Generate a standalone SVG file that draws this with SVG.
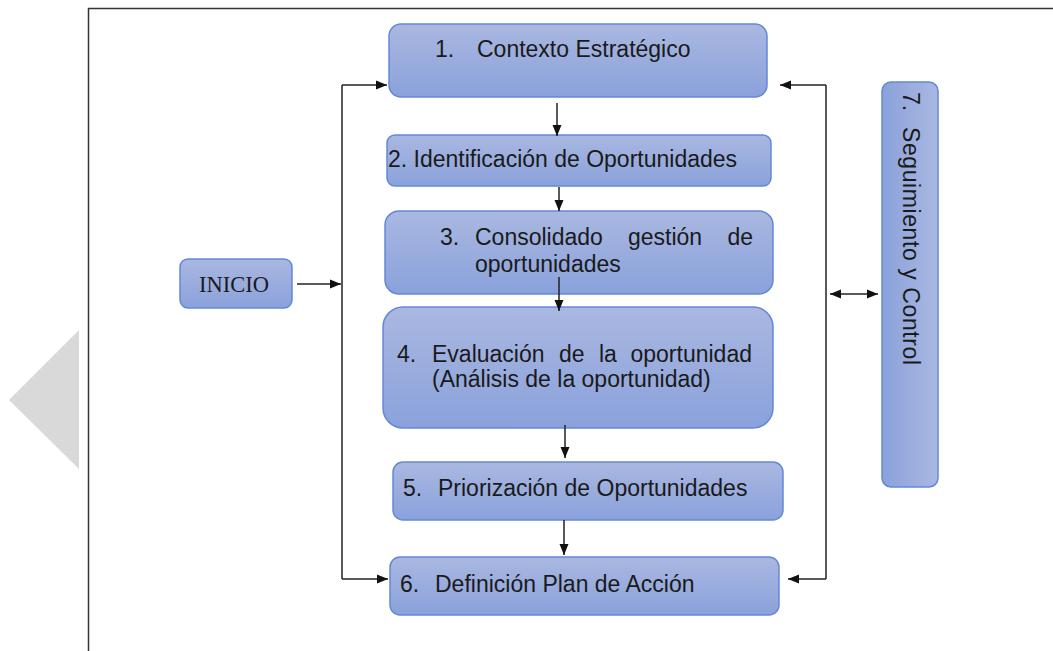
<svg xmlns="http://www.w3.org/2000/svg" width="1053" height="651" viewBox="0 0 1053 651">
<defs>
<linearGradient id="gv" x1="0" y1="0" x2="0" y2="1">
<stop offset="0" stop-color="#aab8e1"/>
<stop offset="1" stop-color="#8aa1db"/>
</linearGradient>
<linearGradient id="gh" x1="0" y1="0" x2="1" y2="0">
<stop offset="0" stop-color="#8aa1db"/>
<stop offset="1" stop-color="#aab8e1"/>
</linearGradient>
<marker id="ah" markerUnits="userSpaceOnUse" markerWidth="12" markerHeight="10" refX="11" refY="5" orient="auto-start-reverse">
<path d="M0,0.5 L11,5 L0,9.5 z" fill="#111"/>
</marker>
</defs>
<style>
.box{fill:url(#gv);stroke:#6389d6;stroke-width:1.5}
.boxh{fill:url(#gh);stroke:#6389d6;stroke-width:1.5}
.t{font-family:"Liberation Sans",Arial,sans-serif;font-size:23px;fill:#1a1a1a}
.ts{font-family:"Liberation Serif","Times New Roman",serif;font-size:22.5px;fill:#1a1a1a}
.c{fill:none;stroke:#222;stroke-width:1.5}
</style>
<rect x="0" y="0" width="1053" height="651" fill="#fff"/>
<rect x="88.5" y="8.5" width="1000" height="700" fill="none" stroke="#333" stroke-width="1.5"/>
<polygon points="79,330 9,400 79,469" fill="#d9d9d9"/>
<g id="inicio">
<rect class="box" x="180" y="259" width="112" height="49" rx="8"/>
<text class="ts" x="199" y="292">INICIO</text>
</g>
<g id="n1">
<rect class="box" x="389" y="24" width="378" height="73" rx="12"/>
<text class="t" x="435" y="57">1.</text>
<text class="t" x="477" y="57">Contexto Estratégico</text>
</g>
<g id="n2">
<rect class="box" x="387" y="135" width="384" height="51" rx="8"/>
<text class="t" x="388" y="167">2. Identificación de Oportunidades</text>
</g>
<g id="n3">
<rect class="box" x="385" y="211" width="388" height="83" rx="14"/>
<text class="t" x="440" y="245">3.</text>
<text class="t" x="475" y="245">Consolidado</text>
<text class="t" x="628" y="245">gestión</text>
<text class="t" x="753" y="245" text-anchor="end">de</text>
<text class="t" x="475" y="272">oportunidades</text>
</g>
<g id="n4">
<rect class="box" x="383" y="307" width="390" height="121" rx="20"/>
<text class="t" x="397" y="362">4.</text>
<text class="t" x="432" y="362">Evaluación</text>
<text class="t" x="559" y="362">de</text>
<text class="t" x="599" y="362">la</text>
<text class="t" x="752" y="362" text-anchor="end">oportunidad</text>
<text class="t" x="432" y="387">(Análisis de la oportunidad)</text>
</g>
<g id="n5">
<rect class="box" x="393" y="462" width="390" height="58" rx="10"/>
<text class="t" x="403" y="496">5.</text>
<text class="t" x="438" y="496">Priorización de Oportunidades</text>
</g>
<g id="n6">
<rect class="box" x="390" y="557" width="389" height="58" rx="10"/>
<text class="t" x="400" y="592">6.</text>
<text class="t" x="435" y="592">Definición Plan de Acción</text>
</g>
<g id="n7">
<rect class="boxh" x="882" y="82" width="56" height="405" rx="9"/>
<g transform="translate(903,92) rotate(90)">
<text class="t" x="0" y="0">7.</text>
<text class="t" x="35" y="0" textLength="238" lengthAdjust="spacing">Seguimiento y Control</text>
</g>
</g>
<g id="connectors">
<path class="c" d="M297 284 H341" marker-end="url(#ah)"/>
<path class="c" d="M342 85 V579"/>
<path class="c" d="M342 85 H387" marker-end="url(#ah)"/>
<path class="c" d="M342 579 H388" marker-end="url(#ah)"/>
<path class="c" d="M826 85 V579"/>
<path class="c" d="M826 85 H780" marker-end="url(#ah)"/>
<path class="c" d="M826 579 H788" marker-end="url(#ah)"/>
<path class="c" d="M830 294 H878" marker-start="url(#ah)" marker-end="url(#ah)"/>
<path class="c" d="M557 103 V136" marker-end="url(#ah)"/>
<path class="c" d="M559 187 V211" marker-end="url(#ah)"/>
<path class="c" d="M559 277 V311" marker-end="url(#ah)"/>
<path class="c" d="M565 425 V458" marker-end="url(#ah)"/>
<path class="c" d="M564 520 V555" marker-end="url(#ah)"/>
</g>
</svg>
